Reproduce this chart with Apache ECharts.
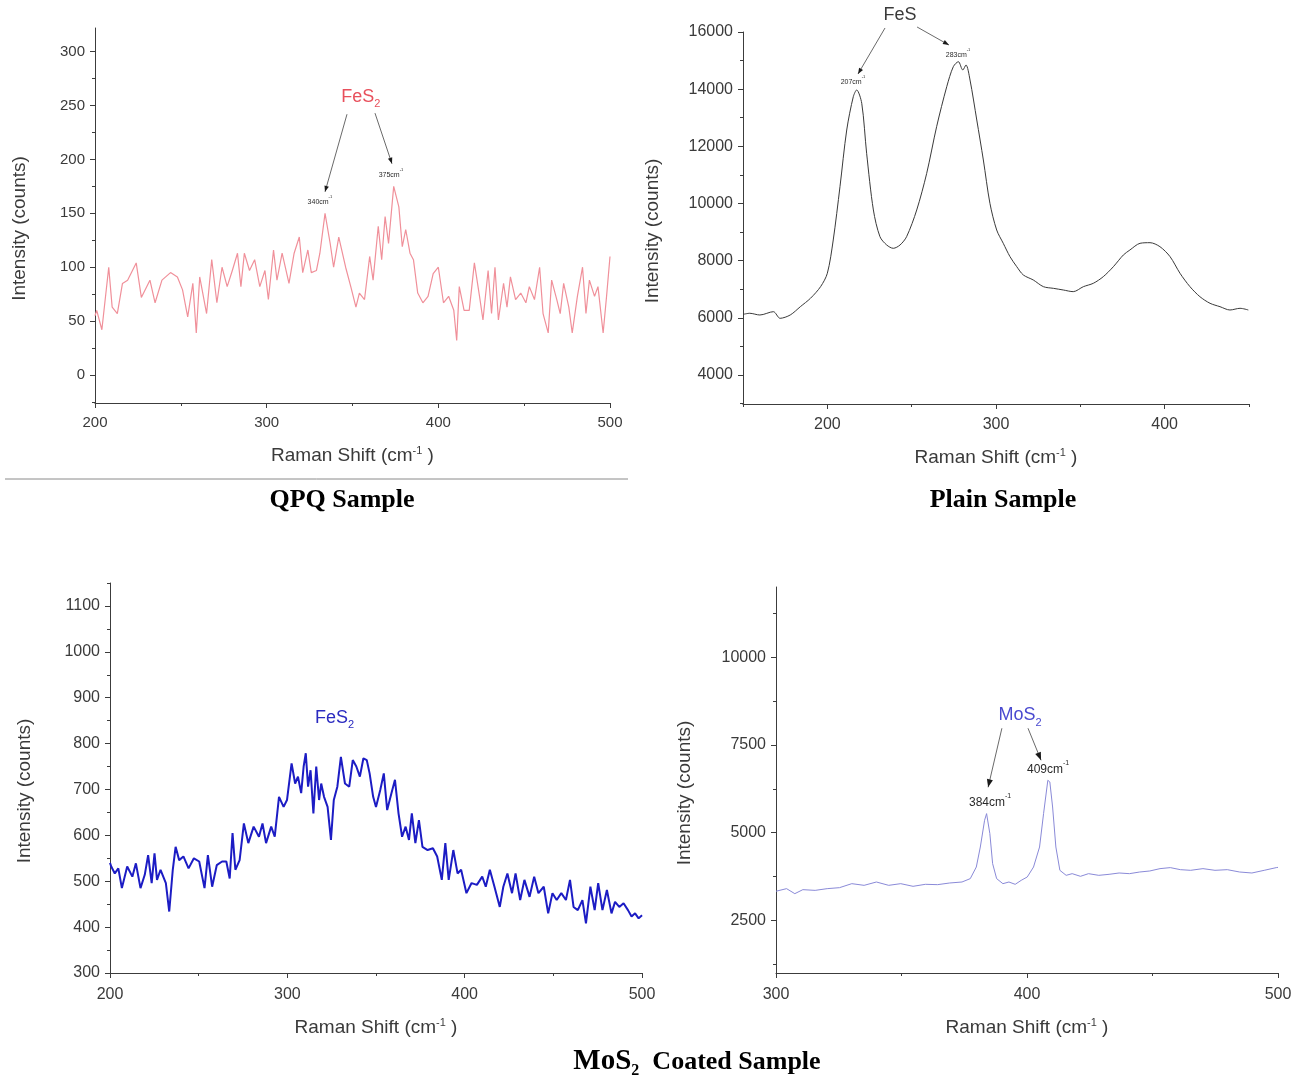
<!DOCTYPE html>
<html><head><meta charset="utf-8">
<script src="https://cdn.jsdelivr.net/npm/echarts@6/dist/echarts.min.js"></script>
<style>html,body{margin:0;padding:0;background:#fff}#c{width:1305px;height:1077px}</style>
</head><body><div id="c"></div>
<script>
// ---------- DATA ----------
// QPQ sample (top-left)
const qpqShift = [200,201,204,208,210,213,216,219,224,227,232,235,239,244,248,251,254,257,259,261,265,268,271,274,277,280,283,285,287,290,293,296,299,301,304,306,309,313,316,319,321,324,326,329,331,334,337,339,342,346,349,352,354,357,360,362,365,367,369,371,374,377,379,381,383.5,385.5,388,391,394,397,400,403,406,409,410.7,412.2,415,418,421,424,426,429,431,433,435,438,440,442,445,448,451,453,456,459,461,464,466,469,471,473,476,478,481,484,486,488,491,493,496,498,500];
const qpqIntensity = [55,60,42,100,63,57,85,88,104,72,88,67,88,95,91,79,54,85,39,91,57,107,67,100,82,97,113,82,113,97,107,82,97,70,116,88,113,85,113,128,95,116,95,97,113,150,122,100,128,100,82,63,76,70,110,88,138,107,147,122,175,156,119,135,113,107,76,67,73,94,100,67,73,60,32,82,60,60,104,73,51,97,57,100,51,85,63,91,70,76,67,82,70,100,57,39,88,70,57,85,63,39,73,100,57,88,73,82,39,73,110];
// Plain sample (top-right)
const plainShift = [150,154,160,168,172,178,184,190,196,200,203.5,207.5,211.5,215.4,217.4,220.4,223.3,227.3,231.2,235.2,239.1,243.1,247,253,258.9,264.8,270.8,274.7,277.7,280.3,282.2,284.6,288.6,292.5,296.4,300.4,304.3,308.3,312.3,316.2,322.1,328.1,334,339.9,345.8,351.8,357.7,363.6,369.6,375.5,379.4,385.4,391.3,397.2,403.2,409.1,415,420.9,426.9,432.8,438.7,444.7,449.6];
const plainIntensity = [6120,6159,6099,6215,5983,6099,6390,6683,7090,7558,8723,10588,12571,13737,13971,13506,11756,9773,8839,8548,8432,8548,8839,9773,11053,12688,14087,14787,14961,14671,14846,14320,12921,11522,10006,9073,8607,8140,7790,7499,7324,7090,7032,6974,6916,7090,7208,7440,7790,8198,8373,8607,8629,8489,8140,7558,7090,6740,6508,6390,6274,6333,6274];
// MoS2 coated sample, FeS2 region (bottom-left)
const coatShift = [200,200.7,202.7,204.7,206.7,209.7,212.6,214.6,217.2,219.6,221.5,223.5,225.1,226.5,228.5,231.5,233.4,235.4,237,239,241.4,244.3,247.3,250.3,253.3,255.2,257.6,260.2,263.2,265.6,267.5,269.1,270.7,273.1,275.5,278,281,284,286,288,290.9,292.9,295.3,297.9,299.8,302.4,304.4,306,307.8,309.2,310.4,311.7,313.1,314.7,316.3,317.9,319.1,320.7,322.7,324.6,326.2,328.2,330.2,332.5,334.9,336.9,338.9,340.9,342.9,344.8,346.4,348.4,350,352.4,354.4,356.3,358.7,360.7,362.7,364.7,366.7,368.6,370.2,372.2,374.2,376.2,379.1,382.1,384.5,387.1,389.1,391,393.6,396,398,401,403.9,406.9,409.9,411.9,414.2,416.8,419.8,421.8,424.1,426.7,428.7,431.3,433.7,436.6,439.2,441.6,444.6,447.1,449.5,451.9,454.5,457.1,459.4,461.4,463.8,466.4,468.4,470.9,473.3,475.3,477.7,480.2,482.8,484.8,487.2,489.6,492.1,494.1,496.1,498.1,500];
const coatIntensity = [540,532,517,528,485,532,510,539,485,514,557,496,561,503,525,496,434,525,575,546,554,528,550,543,485,557,488,535,543,543,506,605,525,546,626,583,619,597,626,583,619,597,684,662,677,757,713,728,692,750,779,706,742,648,750,677,713,684,662,590,677,706,771,713,706,764,750,728,768,764,735,684,662,699,735,655,692,721,648,597,619,590,648,583,633,575,568,572,554,503,583,503,568,517,525,474,496,492,510,488,525,488,444,488,517,474,517,459,503,466,510,474,488,430,474,459,474,459,503,444,437,459,408,488,437,496,437,481,430,455,444,452,437,423,430,419,426];
// MoS2 coated sample, MoS2 region (bottom-right)
const mosShift = [300,300.6,304.2,307.5,310.7,315.6,320.4,325.3,330.2,335.1,340,344.9,349.7,354.6,359.5,364.4,369.2,374.1,377.4,379.8,381.4,383.1,383.9,385.2,386.3,387.9,390.4,392.8,395.3,397.7,400.1,402.6,405,406.6,408.3,409.1,410.2,411.5,413.1,415.6,418,421.3,424.5,428.6,432.7,436.7,440.8,444.9,448.9,453,457.1,461.1,465.2,470.1,474.9,479.8,484.7,489.6,494.5,499.3,500];
const mosIntensity = [3330,3355,3404,3261,3375,3355,3404,3432,3546,3498,3593,3498,3546,3470,3527,3518,3565,3593,3689,4020,4590,5352,5542,4972,4117,3689,3546,3593,3527,3641,3736,4020,4590,5542,6492,6444,5731,4590,3926,3783,3831,3755,3831,3783,3812,3850,3831,3878,3907,3974,4003,3945,3926,3974,3926,3945,3878,3850,3926,4003,4010];

// Tick values
const qpqXMajor = [200,300,400,500], qpqXMinor = [250,350,450];
const qpqYMajor = [0,50,100,150,200,250,300], qpqYMinor = [-25,25,75,125,175,225,275];
const plainXMajor = [200,300,400], plainXMinor = [150,250,350,450];
const plainYMajor = [4000,6000,8000,10000,12000,14000,16000], plainYMinor = [3000,5000,7000,9000,11000,13000,15000];
const coatXMajor = [200,300,400,500], coatXMinor = [250,350,450];
const coatYMajor = [300,400,500,600,700,800,900,1000,1100], coatYMinor = [350,450,550,650,750,850,950,1050,1150];
const mosXMajor = [300,400,500], mosXMinor = [350,450];
const mosYMajor = [2500,5000,7500,10000], mosYMinor = [1250,3750,6250,8750,11250];

// Annotation texts and their anchor points (data units)
const qpqNotes = {title:['FeS','2'], titleAt:[354.9,258], peaks:[['340',[331,162],[346.8,242],[334,170]],['375',[372.4,187],[363.1,243],[373,196]]]};
const plainNotes = {title:['FeS',''], titleAt:[243.1,16595], peaks:[['207',[215.2,14321],[234.2,16140],[218.2,14531]],['283',[277.5,15265],[253.2,16175],[272.1,15545]]]};
const coatNotes = {title:['FeS','2'], titleAt:[326.6,856], peaks:[]};
const mosNotes = {title:['MoS','2'], titleAt:[397.2,8346], peaks:[['384',[385.3,5922],[390,7975],[384.5,6293]],['409',[408.4,6863],[400.4,7975],[405.6,7063]]]};

// ---------- CHART ----------
const sans = 'Liberation Sans, Arial, sans-serif';
const axisColor = '#3c3c3c';
const textColor = '#3a3a3a';
const pairs = (xs, ys) => xs.map((x, i) => [x, ys[i]]);

const panels = [
  {grid:{left:95,top:28,width:515,height:375}, xr:[200,500], yr:[-26,322], xM:qpqXMajor, xm:qpqXMinor, yM:qpqYMajor, ym:qpqYMinor,
   data:pairs(qpqShift,qpqIntensity), color:'#f0909a', lw:1.2, smooth:false, fs:15, xGap:42, yGap:66, xMargin:12, notes:qpqNotes, noteColor:'#e8505c', peakFs:7},
  {grid:{left:743,top:32,width:506,height:372}, xr:[150,450], yr:[2985,16000], xM:plainXMajor, xm:plainXMinor, yM:plainYMajor, ym:plainYMinor,
   data:pairs(plainShift,plainIntensity), color:'#3a3a3a', lw:1, smooth:0.3, fs:16, xGap:43, yGap:81, xMargin:13, notes:plainNotes, noteColor:'#3a3a3a', peakFs:7},
  {grid:{left:110,top:583,width:532,height:390}, xr:[200,500], yr:[300,1150], xM:coatXMajor, xm:coatXMinor, yM:coatYMajor, ym:coatYMinor,
   data:pairs(coatShift,coatIntensity), color:'#1c1cc4', lw:2, smooth:false, fs:16, xGap:44, yGap:76, xMargin:14, notes:coatNotes, noteColor:'#2a2ac0', peakFs:12},
  {grid:{left:776,top:587,width:502,height:386}, xr:[300,500], yr:[1000,12000], xM:mosXMajor, xm:mosXMinor, yM:mosYMajor, ym:mosYMinor,
   data:pairs(mosShift,mosIntensity), color:'#8a8ad8', lw:1, smooth:false, fs:16, xGap:44, yGap:82, xMargin:14, notes:mosNotes, noteColor:'#4a4ad0', peakFs:12}
];

const grid = [], xAxis = [], yAxis = [], series = [];
panels.forEach((p, i) => {
  grid.push(Object.assign({containLabel:false}, p.grid));
  const line = {show:true, onZero:false, lineStyle:{color:axisColor, width:1}};
  xAxis.push({type:'value', gridIndex:i, position:'bottom', min:p.xr[0], max:p.xr[1],
    axisLine:line, splitLine:{show:false},
    axisTick:{show:true, length:5, customValues:p.xM, lineStyle:{color:axisColor}},
    axisLabel:{customValues:p.xM, margin:p.xMargin, fontSize:p.fs, color:textColor, fontFamily:sans, formatter:v=>String(v)},
    name:'Raman Shift (cm{sup|-1} )', nameLocation:'middle', nameGap:p.xGap,
    nameTextStyle:{fontSize:19, color:textColor, fontFamily:sans, lineHeight:22, rich:{sup:{fontSize:11, lineHeight:11, verticalAlign:'top', color:textColor, fontFamily:sans}}}
  });
  xAxis.push({type:'value', gridIndex:i, position:'bottom', offset:0, min:p.xr[0], max:p.xr[1],
    axisLine:{show:false, onZero:false}, splitLine:{show:false}, axisLabel:{show:false},
    axisTick:{show:true, length:3, customValues:p.xm, lineStyle:{color:axisColor}}});
  yAxis.push({type:'value', gridIndex:i, position:'left', min:p.yr[0], max:p.yr[1],
    axisLine:line, splitLine:{show:false},
    axisTick:{show:true, length:5, customValues:p.yM, lineStyle:{color:axisColor}},
    axisLabel:{customValues:p.yM, margin:10, fontSize:p.fs, color:textColor, fontFamily:sans, formatter:v=>String(v)},
    name:'Intensity (counts)', nameLocation:'middle', nameGap:p.yGap, nameRotate:90,
    nameTextStyle:{fontSize:19, color:textColor, fontFamily:sans, padding:[0,26,0,0]}
  });
  yAxis.push({type:'value', gridIndex:i, position:'left', offset:0, min:p.yr[0], max:p.yr[1],
    axisLine:{show:false, onZero:false}, splitLine:{show:false}, axisLabel:{show:false},
    axisTick:{show:true, length:3, customValues:p.ym, lineStyle:{color:axisColor}}});
  series.push({type:'line', xAxisIndex:2*i, yAxisIndex:2*i, data:p.data, showSymbol:false, symbol:'none', smooth:p.smooth,
    lineStyle:{color:p.color, width:p.lw}, itemStyle:{color:p.color}, clip:true});
});

const chart = echarts.init(document.getElementById('c'));
chart.setOption({animation:false, backgroundColor:'#fff', grid, xAxis, yAxis, series});

// ---------- ANNOTATIONS & CAPTIONS ----------
const graphic = [];
function arrow(a, b, stroke, head) {
  graphic.push({type:'line', shape:{x1:a[0], y1:a[1], x2:b[0], y2:b[1]}, style:{stroke, lineWidth:1}, z:10});
  const dx = b[0]-a[0], dy = b[1]-a[1], L = Math.hypot(dx, dy) || 1;
  const ux = dx/L, uy = dy/L, nx = -uy, ny = ux, hl = head, hw = head*0.38;
  graphic.push({type:'polygon', z:10, shape:{points:[[b[0],b[1]],[b[0]-hl*ux+hw*nx, b[1]-hl*uy+hw*ny],[b[0]-hl*ux-hw*nx, b[1]-hl*uy-hw*ny]]}, style:{fill:'#1a1a1a'}});
}
panels.forEach((p, i) => {
  const px = v => chart.convertToPixel({seriesIndex:i}, v);
  const n = p.notes;
  const t = px(n.titleAt);
  graphic.push({type:'text', x:t[0], y:t[1], z:11, style:{
    text: n.title[1] ? '{m|'+n.title[0]+'}{s|'+n.title[1]+'}' : '{m|'+n.title[0]+'}',
    align:'center', verticalAlign:'middle',
    rich:{m:{fontSize:18, lineHeight:26, verticalAlign:'middle', fill:p.noteColor, fontFamily:sans},
          s:{fontSize:11, lineHeight:6, verticalAlign:'bottom', fill:p.noteColor, fontFamily:sans}}}});
  n.peaks.forEach(pk => {
    arrow(px(pk[2]), px(pk[3]), '#6a6a6a', p.peakFs > 8 ? 8 : 6);
    const l = px(pk[1]);
    graphic.push({type:'text', x:l[0], y:l[1], z:11, style:{
      text:'{m|'+pk[0]+'cm}{s|-1}', align:'center', verticalAlign:'middle',
      rich:{m:{fontSize:p.peakFs, lineHeight:p.peakFs+4, verticalAlign:'bottom', fill:'#2a2a2a', fontFamily:sans},
            s:{fontSize:Math.round(p.peakFs*0.6), lineHeight:Math.round(p.peakFs*0.6), verticalAlign:'top', fill:'#2a2a2a', fontFamily:sans}}}});
  });
});
const serif = 'Liberation Serif, Times New Roman, serif';
graphic.push({type:'line', shape:{x1:5, y1:479, x2:628, y2:479}, style:{stroke:'#8a8a8a', lineWidth:1}});
graphic.push({type:'text', x:342, y:500, style:{text:'QPQ Sample', align:'center', verticalAlign:'middle', font:'bold 26px '+serif, fill:'#000'}});
graphic.push({type:'text', x:1003, y:500, style:{text:'Plain Sample', align:'center', verticalAlign:'middle', font:'bold 26px '+serif, fill:'#000'}});
graphic.push({type:'text', x:697, y:1062, style:{text:'{b|MoS}{s|2}{c|  Coated Sample}', align:'center', verticalAlign:'middle',
  rich:{b:{fontSize:29, fontWeight:'bold', fontFamily:serif, fill:'#000', lineHeight:34, verticalAlign:'middle'},
        s:{fontSize:16, fontWeight:'bold', fontFamily:serif, fill:'#000', lineHeight:8, verticalAlign:'bottom'},
        c:{fontSize:26, fontWeight:'bold', fontFamily:serif, fill:'#000', lineHeight:34, verticalAlign:'middle'}}}});
chart.setOption({graphic});
</script>
</body></html>
